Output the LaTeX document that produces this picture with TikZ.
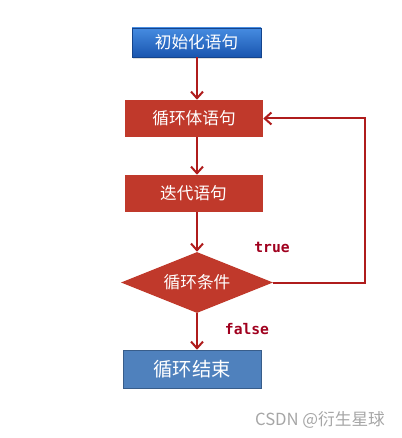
\documentclass[tikz,border=0pt]{standalone}
\usepackage{fontspec}
\newfontfamily\cjk{Noto Sans CJK SC}
\newfontfamily\codefont{DejaVu Sans Mono}
\usetikzlibrary{shapes.geometric,arrows.meta,shadows}
\definecolor{loopred}{RGB}{192,57,43}
\definecolor{arrred}{RGB}{175,28,28}
\definecolor{lblred}{RGB}{160,0,30}
\definecolor{endblue}{RGB}{79,129,189}
\definecolor{endline}{RGB}{56,93,138}
\definecolor{inittop}{RGB}{70,140,225}
\definecolor{initbot}{RGB}{25,85,175}
\begin{document}
\begin{tikzpicture}[x=0.75pt,y=-0.75pt,
  initbox/.style={rectangle,draw=initbot!80!black,top color=inittop,bottom color=initbot,
    minimum width=96.75pt,minimum height=21.75pt,text=white,font=\cjk\fontsize{12.5}{14}\selectfont,
    drop shadow={opacity=0.25,shadow xshift=1pt,shadow yshift=-1.5pt}},
  stepbox/.style={rectangle,fill=loopred,minimum width=103.5pt,minimum height=27.75pt,
    text=white,font=\cjk\fontsize{12.5}{14}\selectfont},
  condbox/.style={diamond,fill=loopred,aspect=2.5,inner sep=0pt,minimum width=114pt,
    minimum height=45.75pt,text=white,font=\cjk\fontsize{12.5}{14}\selectfont},
  endbox/.style={rectangle,draw=endline,fill=endblue,minimum width=103.5pt,minimum height=28.5pt,
    text=white,font=\cjk\fontsize{14.5}{16}\selectfont},
  arr/.style={draw=arrred,line width=1.5pt,-{Straight Barb[length=5pt,width=9pt]}},
  lbl/.style={text=lblred,font=\codefont\bfseries\fontsize{11}{12}\selectfont}]
\useasboundingbox (0,0) rectangle (402,438);

\node[initbox] (init) at (196.5,42.5) {初始化语句};
\node[stepbox] (body) at (194,118.5) {循环体语句};
\node[stepbox] (iter) at (193.5,193.5) {迭代语句};
\node[condbox] (cond) at (197,282.5) {循环条件};
\node[endbox] (done) at (192,369) {循环结束};

\draw[arr] (init.south -| cond) -- (body.north -| cond);
\draw[arr] (body.south -| cond) -- (iter.north -| cond);
\draw[arr] (iter.south -| cond) -- (cond.north);
\draw[arr] (cond.south) -- (done.north -| cond);
\draw[arr] (cond.east) -- ++(92,0) |- (body.east);

\node[lbl] (yes) at (272,247) {true};
\node[lbl] (no) at (247,329) {false};

\node[text=black!35,font=\cjk\fontsize{12.5}{14}\selectfont] (mark) at (320,420) {CSDN @衍生星球};
\end{tikzpicture}
\end{document}
